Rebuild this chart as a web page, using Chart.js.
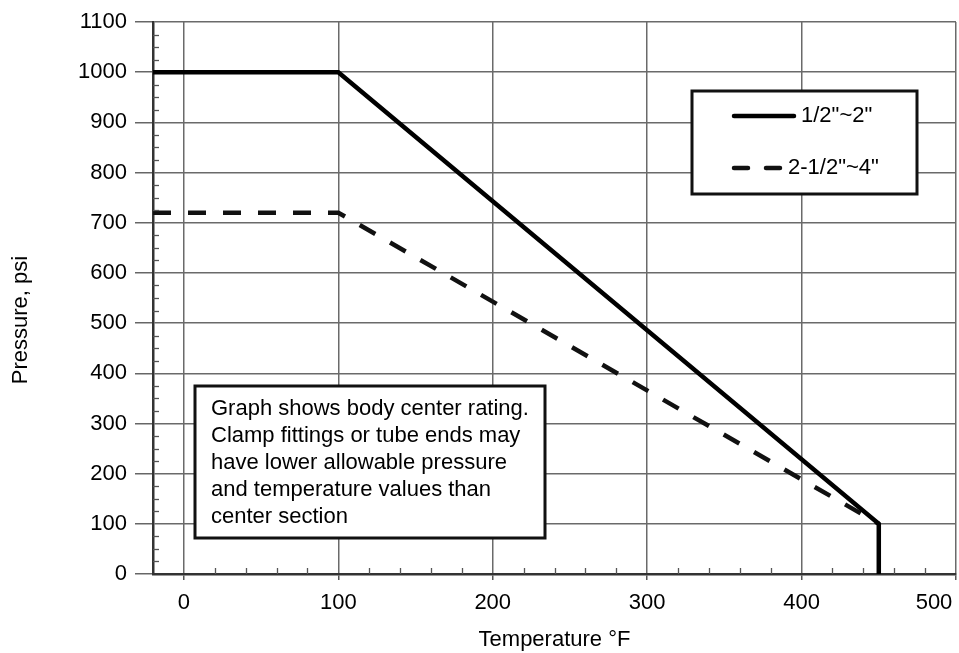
<!DOCTYPE html>
<html>
<head>
<meta charset="utf-8">
<script src="https://cdn.jsdelivr.net/npm/chart.js@4/dist/chart.umd.min.js"></script>
<style>
  html, body { margin: 0; padding: 0; background: #fff; }
  #wrap { width: 959px; height: 653px; }
</style>
</head>
<body>
<div id="wrap"><canvas id="c" width="959" height="653"></canvas></div>
<script>
// ---- data ----
const seriesNames = ['1/2"~2"', '2-1/2"~4"'];
const smallTemps = [-20, 100, 450, 450];
const smallPressure = [1000, 1000, 100, 0];
const largeTemps = [-20, 100, 450];
const largePressure = [720, 720, 100];
const xTickValues = [0, 100, 200, 300, 400, 500];
const yTickValues = [0, 100, 200, 300, 400, 500, 600, 700, 800, 900, 1000, 1100];
const noteLines = [
  'Graph shows body center rating.',
  'Clamp fittings or tube ends may',
  'have lower allowable pressure',
  'and temperature values than',
  'center section'
];

const FONT = "'Liberation Sans', Arial, sans-serif";

function toPoints(xs, ys) { return xs.map((x, i) => ({ x: x, y: ys[i] })); }

const overlayPlugin = {
  id: 'overlay',
  afterDatasetsDraw(chart) {
    const ctx = chart.ctx;
    const ca = chart.chartArea;
    ctx.save();
    // minor ticks on y axis (every 25 psi), inward
    const ys = chart.scales.y, xs = chart.scales.x;
    ctx.strokeStyle = '#555';
    ctx.lineWidth = 1.3;
    for (let v = 25; v < 1100; v += 25) {
      if (v % 100 === 0) continue;
      const py = Math.round(ys.getPixelForValue(v)) + 0.5;
      ctx.beginPath(); ctx.moveTo(ca.left, py); ctx.lineTo(ca.left + 6, py); ctx.stroke();
    }
    for (let v = 20; v < 500; v += 20) {
      if (v % 100 === 0) continue;
      const px = Math.round(xs.getPixelForValue(v)) + 0.5;
      ctx.beginPath(); ctx.moveTo(px, ca.bottom); ctx.lineTo(px, ca.bottom - 6); ctx.stroke();
    }

    // legend box
    const lx = ca.left + 539, ly = ca.top + 69, lw = 225, lh = 103;
    ctx.fillStyle = '#fff';
    ctx.fillRect(lx, ly, lw, lh);
    ctx.strokeStyle = '#111';
    ctx.lineWidth = 3;
    ctx.strokeRect(lx, ly, lw, lh);
    ctx.font = '22px ' + FONT;
    ctx.textBaseline = 'middle';
    ctx.textAlign = 'left';
    chart.data.datasets.forEach((ds, i) => {
      const yy = ly + 25 + i * 52;
      ctx.beginPath();
      ctx.strokeStyle = ds.borderColor;
      ctx.lineWidth = ds.borderWidth;
      ctx.lineCap = 'round';
      if (i === 0) {
        ctx.setLineDash([]);
        ctx.moveTo(lx + 42, yy); ctx.lineTo(lx + 102, yy);
      } else {
        ctx.setLineDash([14, 18]);
        ctx.moveTo(lx + 42, yy); ctx.lineTo(lx + 88, yy);
      }
      ctx.stroke();
      ctx.setLineDash([]);
      ctx.fillStyle = '#000';
      ctx.fillText(ds.label, lx + (i === 0 ? 109 : 96), yy);
    });

    // note box
    const nx = ca.left + 42, ny = ca.top + 364, nw = 350, nh = 152;
    ctx.fillStyle = '#fff';
    ctx.fillRect(nx, ny, nw, nh);
    ctx.strokeStyle = '#111';
    ctx.lineWidth = 3;
    ctx.lineCap = 'butt';
    ctx.strokeRect(nx, ny, nw, nh);
    ctx.fillStyle = '#000';
    ctx.font = '22px ' + FONT;
    ctx.textBaseline = 'alphabetic';
    noteLines.forEach((t, i) => {
      ctx.fillText(t, nx + 16, ny + 29 + i * 27);
    });
    ctx.restore();
  }
};

new Chart(document.getElementById('c'), {
  type: 'scatter',
  data: {
    datasets: [
      {
        label: seriesNames[0],
        data: toPoints(smallTemps, smallPressure),
        showLine: true,
        borderColor: '#000',
        borderWidth: 4.5,
        pointRadius: 0,
        borderJoinStyle: 'miter',
        tension: 0
      },
      {
        label: seriesNames[1],
        data: toPoints(largeTemps, largePressure),
        showLine: true,
        borderColor: '#111',
        borderWidth: 4.5,
        borderDash: [18, 17],
        pointRadius: 0,
        tension: 0
      }
    ]
  },
  options: {
    responsive: false,
    animation: false,
    devicePixelRatio: 1,
    layout: { padding: { top: 22, right: 3, bottom: 0, left: 0 } },
    plugins: {
      legend: { display: false },
      tooltip: { enabled: false }
    },
    scales: {
      x: {
        type: 'linear',
        min: -20,
        max: 500,
        afterBuildTicks(s) { s.ticks = xTickValues.map(v => ({ value: v })); },
        afterFit(s) { s.height = 79; s.paddingLeft = 0; s.paddingRight = 0; },
        ticks: {
          font: { size: 22, family: FONT },
          color: '#000',
          padding: 10,
          maxRotation: 0,
          callback: v => (v === 500 ? '500\u2002\u2002\u2002\u2002' : String(v))
        },
        grid: { color: '#6a6a6a', lineWidth: 1.5, tickLength: 6, tickColor: '#555' },
        border: { color: '#333', width: 2.5 },
        title: {
          display: true,
          text: 'Temperature °F',
          font: { size: 22, family: FONT },
          color: '#000',
          padding: { top: 0, bottom: 0 }
        }
      },
      y: {
        type: 'linear',
        min: 0,
        max: 1100,
        afterBuildTicks(s) { s.ticks = yTickValues.map(v => ({ value: v })); },
        afterFit(s) { s.width = 153; s.paddingTop = 0; s.paddingBottom = 0; },
        ticks: {
          font: { size: 22, family: FONT },
          color: '#000',
          padding: 8,
          callback: v => String(v)
        },
        grid: { color: '#6a6a6a', lineWidth: 1.5, tickLength: 18, tickColor: '#666' },
        border: { color: '#333', width: 2.5 },
        title: {
          display: true,
          text: 'Pressure, psi\u2002\u2002\u2002\u2002',
          font: { size: 22, family: FONT },
          color: '#000',
          padding: { top: 8, bottom: 0 }
        }
      }
    }
  },
  plugins: [overlayPlugin]
});
</script>
</body>
</html>
